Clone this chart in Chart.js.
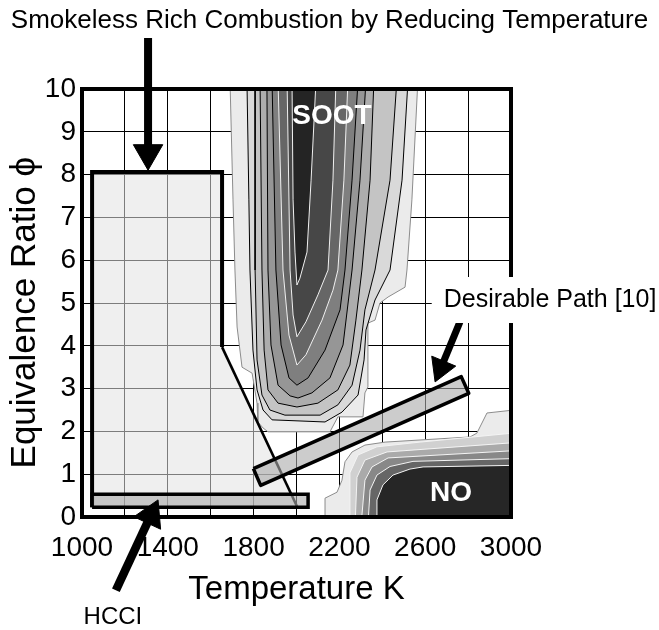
<!DOCTYPE html>
<html><head><meta charset="utf-8">
<script src="https://cdn.jsdelivr.net/npm/chart.js@4.4.1/dist/chart.umd.min.js"></script>
<style>html,body{margin:0;padding:0;background:#fff}canvas{display:block}</style>
</head><body>
<canvas id="c" width="659" height="630"></canvas>
<script>
const FONT = "'Liberation Sans', Arial, Helvetica, sans-serif";

// ---- axis ticks ----
const xTickLabels = ['1000','1400','1800','2200','2600','3000'];
const yTickLabels = ['0','1','2','3','4','5','6','7','8','9','10'];

// ---- SOOT contour levels (Temperature K, phi), outer -> inner ----
const soot1 = [[1690,10.2],[1704,7.41],[1713,5.77],[1723,4.44],[1746,3.50],[1793,3.36],[1816,2.66],[1820,2.22],[1844,2.08],[1867,1.99],[2156,1.99],[2193,2.34],[2310,2.34],[2319,2.90],[2333,3.04],[2333,4.53],[2366,4.60],[2389,5.00],[2427,5.14],[2506,5.37],[2515,5.77],[2538,7.41],[2566,10.2]];
const soot2 = [[1769,10.2],[1778,7.41],[1783,5.77],[1797,3.90],[1816,2.97],[1844,2.50],[1886,2.27],[2133,2.22],[2212,2.45],[2287,2.85],[2315,3.67],[2324,4.37],[2366,5.07],[2436,5.77],[2492,7.87],[2520,10.2]];
const soot3 = [[1807,10.2],[1807,5.77],[1816,3.67],[1839,2.85],[1876,2.50],[1946,2.38],[2110,2.38],[2193,2.62],[2259,3.08],[2296,3.90],[2319,4.84],[2366,5.77],[2436,7.87],[2468,10.2]];
const soot4 = [[1830,10.2],[1839,5.77],[1849,3.90],[1867,2.97],[1914,2.66],[2002,2.57],[2100,2.66],[2193,2.97],[2249,3.55],[2277,4.60],[2305,5.77],[2343,7.87],[2361,10.2]];
const soot5 = [[1862,10.2],[1867,5.77],[1881,4.02],[1914,3.08],[1970,2.83],[2007,2.78],[2072,2.90],[2156,3.25],[2217,4.02],[2259,5.77],[2296,7.87],[2324,10.2]];
const soot6 = [[1886,10.2],[1904,5.77],[1928,4.02],[1965,3.25],[2002,3.08],[2054,3.25],[2133,3.90],[2203,4.84],[2226,5.77],[2259,7.87],[2287,10.2]];
const soot7 = [[1914,10.2],[1937,5.77],[1965,4.25],[2002,3.55],[2044,3.79],[2119,4.60],[2170,5.30],[2193,5.77],[2221,7.87],[2240,10.2]];
const soot8 = [[1956,10.2],[1970,5.77],[1984,4.72],[2002,4.21],[2044,4.56],[2100,5.19],[2147,5.77],[2170,7.87],[2184,10.2]];
const soot9 = [[1979,10.2],[1984,7.41],[1993,6.19],[2002,5.42],[2016,5.58],[2049,6.19],[2068,7.87],[2091,10.2]];

// ---- NO contour levels, outer -> inner ----
const no1 = [[2133,-0.2],[2133,0.44],[2189,0.58],[2212,0.86],[2226,1.29],[2259,1.52],[2319,1.68],[2413,1.75],[2809,1.87],[2841,1.96],[2888,2.43],[3050,2.52],[3050,-0.2]];
const no2 = [[2249,-0.2],[2249,1.03],[2287,1.45],[2375,1.64],[2576,1.75],[3050,1.98],[3050,-0.2]];
const no3 = [[2273,-0.2],[2282,0.93],[2319,1.33],[2422,1.52],[3050,1.75],[3050,-0.2]];
const no4 = [[2301,-0.2],[2319,0.86],[2352,1.17],[2427,1.38],[3050,1.56],[3050,-0.2]];
const no5 = [[2333,-0.2],[2343,0.63],[2375,0.98],[2436,1.18],[2543,1.30],[3050,1.37],[3050,-0.2]];
const no6 = [[2371,-0.2],[2375,0.40],[2403,0.75],[2450,0.98],[2529,1.12],[2590,1.17],[3050,1.21],[3050,-0.2]];

// ---- annotation shapes ----
const smokelessRegion = [[1047,8.06],[1653,8.06],[1653,3.97],[2002,0.25],[1047,0.25]];
const smokelessEdge = [[1047,0.23],[1047,8.06],[1653,8.06],[1653,3.97]];
const smokelessDiag = [[1653,3.97],[2002,0.25]];
const hcciBar = [[1047,0.23],[2054,0.23],[2054,0.53],[1047,0.53],[1047,0.23]];
const pathBar = [[1799,1.13],[1833,0.74],[2803,2.89],[2768,3.28],[1799,1.13]];
const topArrow = [[1308,11.19],[1308,8.57]];
const topArrowHead = [[1308,8.50]];
const hcciArrow = [[1158,-1.71],[1321,0.04]];
const hcciArrowHead = [[1321,0.04]];
const pathArrow = [[2762,4.56],[2673,3.48]];
const pathArrowHead = [[2673,3.48]];

// ---- styles ----
const sootFills = ['#ebebeb','#d9d9d9','#c4c4c4','#adadad','#969696','#7f7f7f','#666666','#474747','#242424'];
const sootLines = ['#8c8c8c','#000','#000','#000','#000','#000','#f0f0f0','#f0f0f0','#f0f0f0'];
const noFills = ['#ebebeb','#d0d0d0','#aaaaaa','#888888','#666666','#262626'];
const noLines = ['#8c8c8c','#f4f4f4','#f4f4f4','#f4f4f4','#f4f4f4','#f4f4f4'];

const toXY = a => a.map(([x, y]) => ({x, y}));
const datasets = [];
function poly(data, fillColor, lineColor, lineWidth, extra) {
  datasets.push(Object.assign({data: toXY(data), backgroundColor: fillColor, borderColor: lineColor,
    borderWidth: lineWidth, fill: 'shape', pointRadius: 0, tension: 0}, extra || {}));
}
function path(data, color, width, extra) {
  datasets.push(Object.assign({data: toXY(data), borderColor: color, borderWidth: width,
    fill: false, pointRadius: 0, tension: 0}, extra || {}));
}
function head(data, radius, rotation) {
  datasets.push({data: toXY(data), showLine: false, pointStyle: 'triangle', pointRadius: radius,
    pointRotation: rotation, pointBackgroundColor: '#000', pointBorderColor: '#000', pointBorderWidth: 1, clip: false});
}

poly(smokelessRegion, 'rgba(225,225,225,0.55)', 'rgba(0,0,0,0)', 0);
[soot1,soot2,soot3,soot4,soot5,soot6,soot7,soot8,soot9].forEach((d, i) => poly(d, sootFills[i], sootLines[i], 1));
[no1,no2,no3,no4,no5,no6].forEach((d, i) => poly(d, noFills[i], noLines[i], 1));
path(smokelessEdge, '#000', 4, {borderJoinStyle: 'miter'});
path(smokelessDiag, '#000', 2.6);
poly(pathBar, 'rgba(170,170,170,0.6)', '#000', 3.5, {borderJoinStyle: 'round'});
poly(hcciBar, 'rgba(170,170,170,0.6)', '#000', 3.5);
path(topArrow, '#000', 8, {clip: false});
head(topArrowHead, 17, 180);
path(hcciArrow, '#000', 8.5, {clip: false});
head(hcciArrowHead, 17, 25);
path(pathArrow, '#000', 7, {clip: false});
head(pathArrowHead, 15, 202.6);
datasets.forEach((d, i) => { d.order = datasets.length - i; });

const textLabels = {
  title: 'Smokeless Rich Combustion by Reducing Temperature',
  soot: 'SOOT', no: 'NO', path: 'Desirable Path [10]', hcci: 'HCCI'
};

const deco = {
  id: 'deco',
  beforeDraw(chart) {
    const c = chart.ctx; c.save(); c.fillStyle = '#fff'; c.fillRect(0, 0, chart.width, chart.height); c.restore();
  },
  afterDatasetsDraw(chart) {
    const c = chart.ctx, a = chart.chartArea;
    c.save(); c.strokeStyle = '#000'; c.lineWidth = 4;
    c.strokeRect(a.left, a.top, a.right - a.left, a.bottom - a.top);
    c.restore();
  },
  afterDraw(chart) {
    const c = chart.ctx, xs = chart.scales.x, ys = chart.scales.y;
    const px = v => xs.getPixelForValue(v), py = v => ys.getPixelForValue(v);
    c.save();
    c.textAlign = 'center'; c.textBaseline = 'middle';
    // title
    c.fillStyle = '#000'; c.font = '26px ' + FONT;
    c.fillText(textLabels.title, chart.width / 2, 21);
    // SOOT / NO
    c.fillStyle = '#fff'; c.font = 'bold 28px ' + FONT;
    c.fillText(textLabels.soot, px(2165), py(9.37));
    c.fillText(textLabels.no, px(2720), py(0.56));
    // Desirable path label with white backing
    c.font = '25px ' + FONT;
    const w = c.measureText(textLabels.path).width;
    const cx = px(3182), cy = py(5.07);
    c.fillStyle = '#fff';
    c.fillRect(cx - w / 2 - 12, cy - 23, chart.width - (cx - w / 2 - 12), 46);
    c.fillStyle = '#000';
    c.fillText(textLabels.path, cx, cy);
    // HCCI
    c.font = '24px ' + FONT;
    c.fillText(textLabels.hcci, px(1144), py(-2.34));
    c.restore();
  }
};

new Chart(document.getElementById('c'), {
  type: 'line',
  data: {datasets},
  options: {
    responsive: false, animation: false, events: [],
    layout: {padding: {top: 89, right: 148, bottom: 0, left: 0}},
    plugins: {legend: {display: false}, tooltip: {enabled: false}, title: {display: false}},
    scales: {
      x: {
        type: 'linear', position: 'bottom', min: 1000, max: 3000,
        afterFit: s => { s.height = 113; },
        border: {display: false},
        grid: {color: '#000', lineWidth: 1, drawTicks: false},
        ticks: {stepSize: 200, autoSkip: false, maxRotation: 0, padding: 14, color: '#000',
          font: {family: FONT, size: 28},
          callback: v => xTickLabels.includes(String(v)) ? String(v) : ''},
        title: {display: true, text: 'Temperature K', color: '#000', font: {family: FONT, size: 33},
          padding: {top: 0, bottom: 20}}
      },
      y: {
        type: 'linear', min: 0, max: 10,
        afterFit: s => { s.width = 82; },
        border: {display: false},
        grid: {color: '#000', lineWidth: 1, drawTicks: false},
        ticks: {stepSize: 1, autoSkip: false, padding: 6, color: '#000',
          font: {family: FONT, size: 28},
          callback: v => yTickLabels.includes(String(v)) ? String(v) : ''},
        title: {display: true, text: 'Equivalence Ratio \u03D5  ', color: '#000', font: {family: FONT, size: 35},
          padding: {top: 4, bottom: 0}}
      }
    }
  },
  plugins: [deco]
});
</script>
</body></html>
